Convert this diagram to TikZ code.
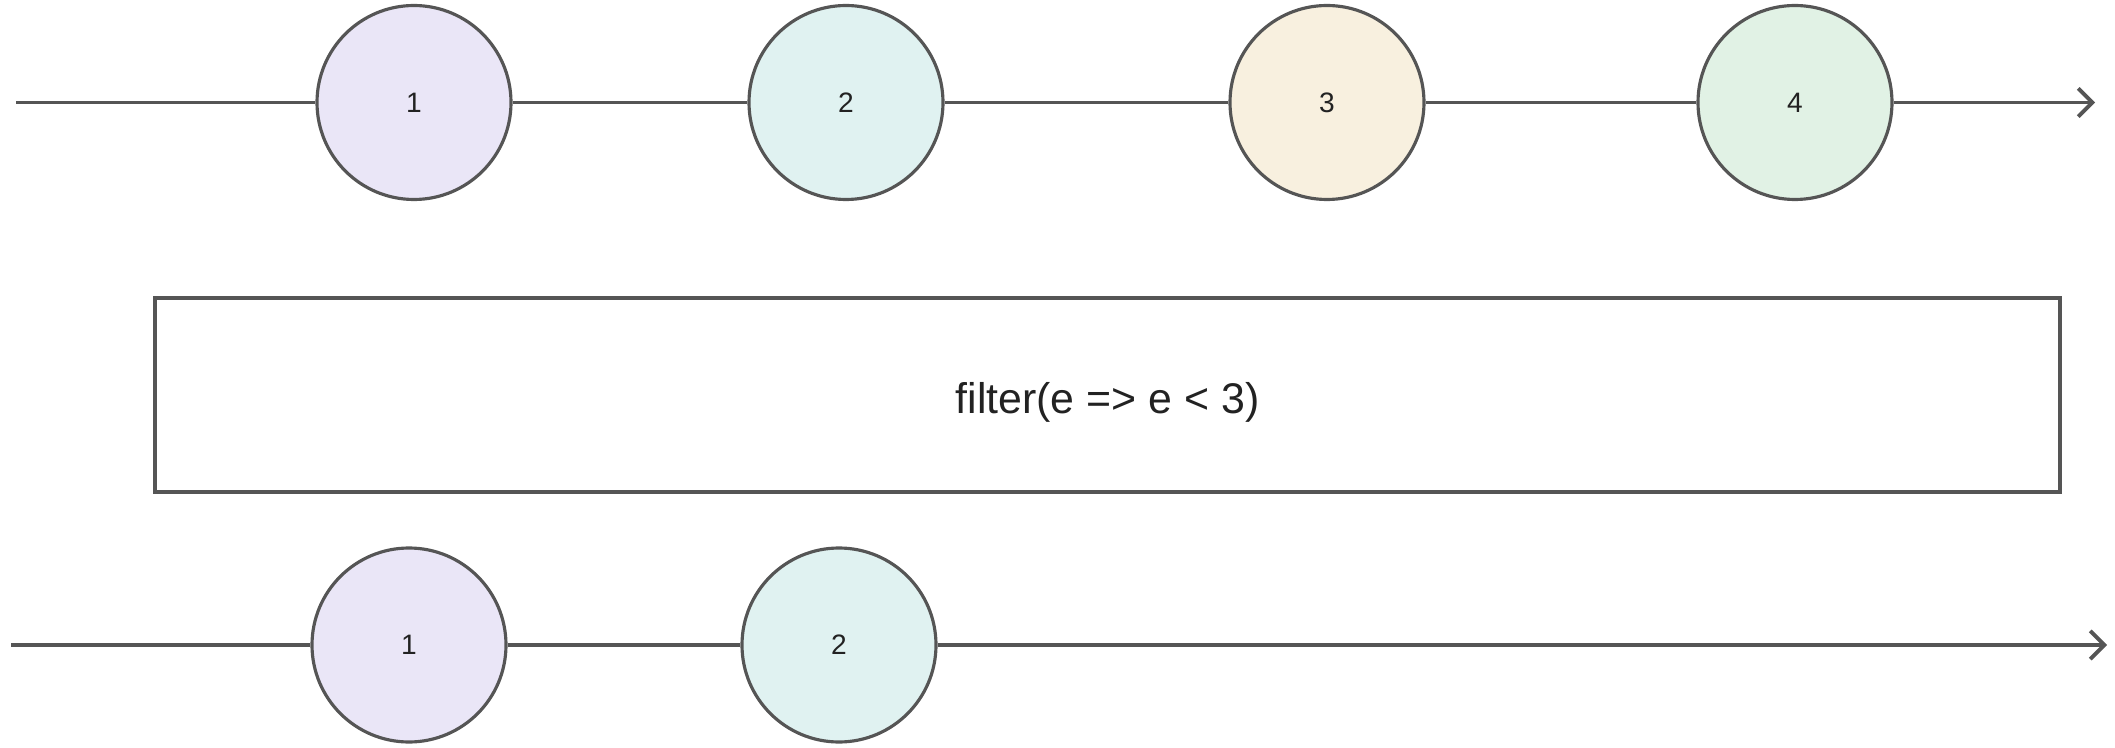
\documentclass[tikz,border=0pt]{standalone}
\usepackage{fontspec}
\setmainfont{Liberation Sans}
\usepackage{xcolor}
\usetikzlibrary{arrows.meta,positioning}
\definecolor{edge}{HTML}{555555}
\definecolor{ink}{HTML}{222222}
\definecolor{lav}{HTML}{EAE6F7}
\definecolor{aqua}{HTML}{E0F2F1}
\definecolor{cream}{HTML}{F8F0DF}
\definecolor{mint}{HTML}{E1F2E5}
\tikzset{
  marble/.style={draw=edge, circle, line width=0.9pt, minimum size=1.94cm,
              inner sep=0pt, text=ink, font=\fontsize{8}{10}\selectfont},
  opbox/.style={draw=edge, line width=0.9pt, minimum width=19.05cm,
              minimum height=1.94cm, inner sep=0pt, text=ink,
              text height=12.9pt, text depth=2.6pt,
              font=\fontsize{12.2}{14}\selectfont},
  line/.style={draw=edge, line width=0.9pt},
  flow/.style={line, -{Straight Barb[length=4pt,width=8pt,line width=1.1pt]}},
}
\begin{document}
\begin{tikzpicture}
  \useasboundingbox (0,0) rectangle (21.15,-7.48);

  % source stream
  \coordinate (srcStart) at (0.16,-1.025);
  \node[marble, fill=lav]   (src1) at (4.14,-1.025)  {1};
  \node[marble, fill=aqua]  (src2) at (8.46,-1.025)  {2};
  \node[marble, fill=cream] (src3) at (13.27,-1.025) {3};
  \node[marble, fill=mint]  (src4) at (17.95,-1.025) {4};
  \coordinate (srcEnd) at (20.95,-1.025);
  \draw[line] (srcStart) -- (src1);
  \draw[line] (src1) -- (src2);
  \draw[line] (src2) -- (src3);
  \draw[line] (src3) -- (src4);
  \draw[flow] (src4) -- (srcEnd);

  % operator
  \node[opbox] (op) at (11.075,-3.95) {filter(e => e < 3)};

  % result stream
  \coordinate (resStart) at (0.11,-6.45);
  \node[marble, fill=lav]  (res1) at (4.09,-6.45) {1};
  \node[marble, fill=aqua] (res2) at (8.39,-6.45) {2};
  \coordinate (resEnd) at (21.07,-6.45);
  \draw[line] (resStart) -- (res1);
  \draw[line] (res1) -- (res2);
  \draw[flow] (res2) -- (resEnd);
\end{tikzpicture}
\end{document}
